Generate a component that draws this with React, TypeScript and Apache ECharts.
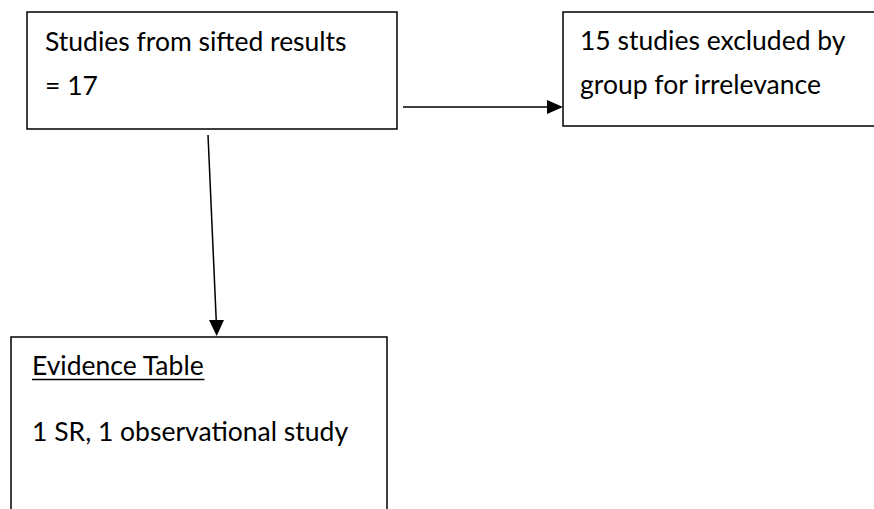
import React, { useEffect, useRef } from "react";
import * as echarts from "echarts";

// Flowchart content
const box1Lines = ["Studies from sifted results", "= 17"];
const box2Lines = ["15 studies excluded by", "group for irrelevance"];
const box3Heading = ["Evidence Table"];
const box3Lines = ["1 SR, 1 observational study"];

const FONT = "Lato, 'Liberation Sans', sans-serif";
const FS = 26.5;

export default function App() {
  const ref = useRef<HTMLDivElement>(null);
  useEffect(() => {
    if (!ref.current) return;
    const chart = echarts.init(ref.current, null, { renderer: "svg" });
    const stroke = { stroke: "#000", lineWidth: 1.5 };
    const font = `${FS}px ${FONT}`;
    const CENTRAL = 0.387 * FS;
    const textEl = (x: number, baseline: number, t: string) => ({
      type: "text",
      x,
      y: baseline - CENTRAL,
      style: { text: t, fill: "#000", font, verticalAlign: "middle", align: "left" },
    });
    const measure = (t: string) => {
      const c = document.createElement("canvas").getContext("2d");
      if (!c) return t.length * FS * 0.5;
      c.font = font;
      return c.measureText(t).width;
    };
    const els: any[] = [];
    // boxes
    els.push({ type: "rect", shape: { x: 27, y: 12, width: 370, height: 117 }, style: { fill: "#fff", ...stroke } });
    els.push({ type: "rect", shape: { x: 563, y: 12, width: 320, height: 114 }, style: { fill: "#fff", ...stroke } });
    els.push({ type: "rect", shape: { x: 11, y: 337, width: 376, height: 190 }, style: { fill: "#fff", ...stroke } });
    // horizontal arrow
    els.push({ type: "line", shape: { x1: 403, y1: 107, x2: 549, y2: 107 }, style: stroke });
    els.push({ type: "polygon", shape: { points: [[547, 100], [563, 107], [547, 114]] }, style: { fill: "#000" } });
    // vertical arrow
    els.push({ type: "line", shape: { x1: 208, y1: 135, x2: 216.3, y2: 322 }, style: stroke });
    els.push({ type: "polygon", shape: { points: [[209, 320], [224, 320], [216.7, 336]] }, style: { fill: "#000" } });
    // texts
    box1Lines.forEach((t, i) => els.push(textEl(45, 51 + i * 44, t)));
    box2Lines.forEach((t, i) => els.push(textEl(580, 50 + i * 44, t)));
    box3Heading.forEach((t) => {
      els.push(textEl(32, 375, t));
      els.push({ type: "line", shape: { x1: 32, y1: 379.5, x2: 32 + measure(t), y2: 379.5 }, style: { stroke: "#000", lineWidth: 1.5 } });
    });
    box3Lines.forEach((t, i) => els.push(textEl(32, 441 + i * 44, t)));

    chart.setOption({ animation: false, backgroundColor: "#fff", graphic: { elements: els } });
    return () => chart.dispose();
  }, []);
  return (
    <div
      ref={ref}
      style={{ position: "fixed", left: 0, top: 0, width: 874, height: 509, background: "#fff" }}
    />
  );
}
